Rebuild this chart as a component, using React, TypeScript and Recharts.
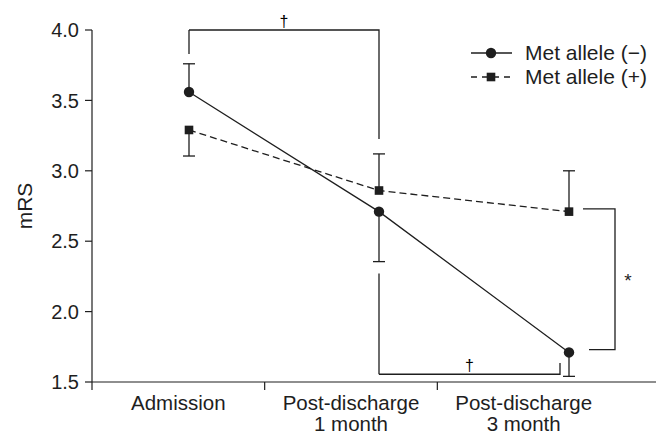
import React from "react";
import { LineChart, Line, XAxis, YAxis, ReferenceLine, Legend } from "recharts";

const categories = ["Admission", "Post-discharge\n1 month", "Post-discharge\n3 month"];
const metNeg = [3.56, 2.71, 1.71];
const metNegErrEnd = [3.76, 2.355, 1.54];
const metPos = [3.29, 2.86, 2.71];
const metPosErrEnd = [3.105, 3.12, 3.0];
const yTicks = [1.5, 2.0, 2.5, 3.0, 3.5, 4.0];

// significance brackets between time points
const pairBrackets = [
  { from: 0, to: 1, start: 3.83, level: 4.0, end: 3.225, mark: "†" },
  { from: 1, to: 2, start: 2.27, level: 1.555, end: 1.635, mark: "†" },
];
// between-group bracket at 3 month
const groupBracket = { at: 2, top: 2.73, bottom: 1.73, mark: "*" };

const INK = "#1e1e1e";
const FONT = "'Liberation Sans', Arial, Helvetica, sans-serif";
const pairEndShift = [0, -9];

const data = categories.map((c, i) => ({ time: c, neg: metNeg[i], pos: metPos[i] }));

const series = [
  { key: "neg", name: "Met allele (−)", dash: undefined as string | undefined, marker: "circle" },
  { key: "pos", name: "Met allele (+)", dash: "7 4", marker: "square" },
];

function Marker({ cx, cy, kind }: { cx: number; cy: number; kind: string }) {
  if (kind === "circle") return <circle cx={cx} cy={cy} r={5.2} fill={INK} />;
  return <rect x={cx - 4.3} y={cy - 4.3} width={8.6} height={8.6} fill={INK} />;
}

function CategoryTick(props: any) {
  const { x, y, payload } = props;
  const half = payload?.offset ?? 0;
  const lines = String(payload.value).split("\n");
  return (
    <g>
      <line x1={x - half} x2={x - half} y1={y - 8} y2={y} stroke={INK} strokeWidth={1.2} />
      <text x={x} y={y} textAnchor="middle" fontSize={20.5} fill={INK} fontFamily={FONT}>
        {lines.map((l, i) => (
          <tspan key={i} x={x} dy={i === 0 ? 20 : 21}>
            {l}
          </tspan>
        ))}
      </text>
    </g>
  );
}

function LegendBox() {
  return (
    <div style={{ fontFamily: FONT, fontSize: 21, color: INK }}>
      {series.map((s) => (
        <div key={s.key} style={{ display: "flex", alignItems: "center", height: 24 }}>
          <svg width={44} height={24}>
            <line x1={2} x2={43} y1={12} y2={12} stroke={INK} strokeWidth={1.3} strokeDasharray={s.dash ? "6 5" : undefined} />
            <Marker cx={22} cy={12} kind={s.marker} />
          </svg>
          <span style={{ marginLeft: 12, lineHeight: "24px" }}>{s.name}</span>
        </div>
      ))}
    </div>
  );
}

function errorBar(key: string, cat: string, value: number, end: number) {
  return (
    <ReferenceLine
      key={key}
      xAxisId="pts"
      ifOverflow="visible"
      segment={[
        { x: cat, y: value },
        { x: cat, y: end },
      ]}
      shape={(p: any) => (
        <g>
          <line x1={p.x1} y1={p.y1} x2={p.x2} y2={p.y2} stroke={INK} strokeWidth={1.3} />
          <line x1={p.x2 - 6} y1={p.y2} x2={p.x2 + 6} y2={p.y2} stroke={INK} strokeWidth={1.3} />
        </g>
      )}
    />
  );
}

function pairBracket(b: (typeof pairBrackets)[number], i: number) {
  const a = categories[b.from];
  const c = categories[b.to];
  const shift = pairEndShift[i];
  return [
    <ReferenceLine
      key={`pb${i}a`}
      xAxisId="pts"
      ifOverflow="visible"
      segment={[
        { x: a, y: b.start },
        { x: a, y: b.level },
      ]}
      shape={(p: any) => <line x1={p.x1} y1={p.y1} x2={p.x2} y2={p.y2} stroke={INK} strokeWidth={1.3} />}
    />,
    <ReferenceLine
      key={`pb${i}b`}
      xAxisId="pts"
      ifOverflow="visible"
      segment={[
        { x: a, y: b.level },
        { x: c, y: b.end },
      ]}
      shape={(p: any) => (
        <g>
          <path
            d={`M${p.x1},${p.y1} H${p.x2 + shift} V${p.y2}`}
            fill="none"
            stroke={INK}
            strokeWidth={1.3}
          />
          <text
            x={(p.x1 + p.x2 + shift) / 2}
            y={p.y1 - 3}
            textAnchor="middle"
            fontSize={16}
            fill="#000"
            fontFamily={FONT}
          >
            {b.mark}
          </text>
        </g>
      )}
    />,
  ];
}

function groupBracketLine() {
  const cat = categories[groupBracket.at];
  return (
    <ReferenceLine
      key="gb"
      xAxisId="pts"
      ifOverflow="visible"
      segment={[
        { x: cat, y: groupBracket.top },
        { x: cat, y: groupBracket.bottom },
      ]}
      shape={(p: any) => (
        <g>
          <path
            d={`M${p.x1 + 14},${p.y1} H${p.x1 + 46} V${p.y2} H${p.x1 + 20}`}
            fill="none"
            stroke={INK}
            strokeWidth={1.3}
          />
          <text x={p.x1 + 59} y={(p.y1 + p.y2) / 2 + 8} textAnchor="middle" fontSize={19} fill={INK} fontFamily={FONT}>
            {groupBracket.mark}
          </text>
        </g>
      )}
    />
  );
}

export default function App() {
  return (
    <div style={{ position: "absolute", left: 0, top: 0, background: "#fff" }}>
      <LineChart width={656} height={436} data={data} margin={{ top: 30, right: 0, bottom: 0, left: 0 }}>
        <XAxis
          xAxisId="lab"
          dataKey="time"
          type="category"
          scale="band"
          padding={{ left: 0, right: 46 }}
          height={54}
          tickLine={false}
          tickSize={8}
          tickMargin={0}
          axisLine={{ stroke: INK, strokeWidth: 1.2 }}
          tick={<CategoryTick />}
          interval={0}
        />
        <XAxis xAxisId="pts" dataKey="time" type="category" hide padding={{ left: 97, right: 87 }} />
        <YAxis
          domain={[1.5, 4]}
          ticks={yTicks}
          type="number"
          width={92}
          tickSize={7}
          tickMargin={6}
          tickFormatter={(v: number) => v.toFixed(1)}
          tick={{ fontSize: 20, fill: INK, fontFamily: FONT }}
          axisLine={{ stroke: INK, strokeWidth: 1.2 }}
          tickLine={{ stroke: INK, strokeWidth: 1.2 }}
          label={{ value: "mRS", angle: -90, position: "center", dx: -21, fontSize: 21, fill: INK, fontFamily: FONT }}
        />
        <Legend
          layout="vertical"
          align="center"
          verticalAlign="middle"
          content={() => <LegendBox />}
          wrapperStyle={{ left: 469, top: 41, width: "auto" }}
        />
        {categories.map((c, i) => errorBar(`en${i}`, c, metNeg[i], metNegErrEnd[i]))}
        {categories.map((c, i) => errorBar(`ep${i}`, c, metPos[i], metPosErrEnd[i]))}
        {pairBrackets.map((b, i) => pairBracket(b, i))}
        {groupBracketLine()}
        {series.map((s) => (
          <Line
            key={s.key}
            xAxisId="pts"
            dataKey={s.key}
            name={s.name}
            stroke={INK}
            strokeWidth={1.3}
            strokeDasharray={s.dash}
            isAnimationActive={false}
            activeDot={false}
            dot={(p: any) => <Marker key={`${s.key}${p.index}`} cx={p.cx} cy={p.cy} kind={s.marker} />}
          />
        ))}
      </LineChart>
    </div>
  );
}
